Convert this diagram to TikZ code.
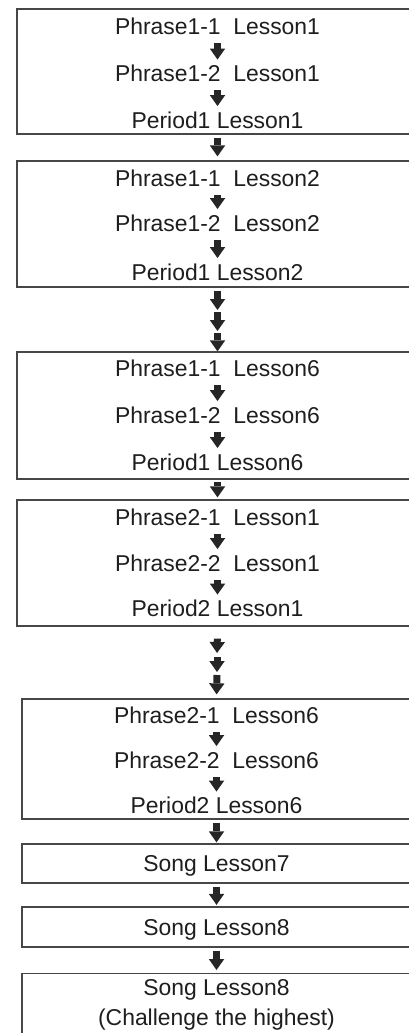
\documentclass[tikz,border=0pt]{standalone}
\usepackage{fontspec}
\setmainfont{Liberation Sans}
\usepackage{tikz}
\usetikzlibrary{arrows.meta}
\definecolor{boxline}{HTML}{474747}
\definecolor{arrfill}{HTML}{262626}
\definecolor{txtcol}{HTML}{1E1E1E}
\tikzset{
  grpbox/.style  ={draw=boxline,line width=1.3pt,inner sep=0pt,minimum width=401pt},
  grpboxb/.style ={grpbox,minimum width=389pt},
  songbox/.style ={grpboxb,text=txtcol,minimum height=39pt,
                   text height=16.5pt,text depth=0pt},
  steptxt/.style ={inner sep=0pt,text=txtcol,text height=16.5pt,text depth=0pt},
  blockarr/.style={draw=arrfill,line width=7pt,
                   -{Triangle[width=15.5pt,length=11pt,line width=0pt]}},
  inarr/.style   ={blockarr,shorten <=8.5pt,shorten >=5.5pt},
}

\begin{document}
\begin{tikzpicture}[x=1pt,y=-1pt,font=\fontsize{22.9}{30}\selectfont]
\useasboundingbox (0,0) rectangle (409,1033);

% --- block 1 ---------------------------------------------------------------
\node[grpbox,minimum height=125pt] (bx1) at (217.5,71.5) {};
\node[steptxt] (t11) at (217.5,26)    {Phrase1-1\ \ Lesson1};
\node[steptxt] (t12) at (217.5,73.5)  {Phrase1-2\ \ Lesson1};
\node[steptxt] (t13) at (217.5,120)   {Period1 Lesson1};
\draw[inarr] (t11.south) -- (t12.north);
\draw[inarr] (t12.south) -- (t13.north);

% --- block 2 ---------------------------------------------------------------
\node[grpbox,minimum height=126pt] (bx2) at (217.5,224) {};
\node[steptxt] (t21) at (217.5,178)   {Phrase1-1\ \ Lesson2};
\node[steptxt] (t22) at (217.5,223)   {Phrase1-2\ \ Lesson2};
\node[steptxt] (t23) at (217.5,272)   {Period1 Lesson2};
\draw[inarr] (t21.south) -- (t22.north);
\draw[inarr] (t22.south) -- (t23.north);
\draw[blockarr,shorten <=3pt,shorten >=4pt] (bx1.south) -- (bx2.north);

% --- block 3 ---------------------------------------------------------------
\node[grpbox,minimum height=127pt] (bx3) at (217.5,415.5) {};
\node[steptxt] (t31) at (217.5,368.5) {Phrase1-1\ \ Lesson6};
\node[steptxt] (t32) at (217.5,415)   {Phrase1-2\ \ Lesson6};
\node[steptxt] (t33) at (217.5,462)   {Period1 Lesson6};
\draw[inarr] (t31.south) -- (t32.north);
\draw[inarr] (t32.south) -- (t33.north);
\coordinate (m21) at (217.5,310);
\coordinate (m22) at (217.5,331);
\draw[blockarr,shorten <=3pt] (bx2.south) -- (m21);
\draw[blockarr,shorten <=2pt] (m21) -- (m22);
\draw[blockarr,shorten <=2pt] (m22) -- (bx3.north);

% --- block 4 ---------------------------------------------------------------
\node[grpbox,minimum height=126pt] (bx4) at (217.5,563) {};
\node[steptxt] (t41) at (217.5,517.5) {Phrase2-1\ \ Lesson1};
\node[steptxt] (t42) at (217.5,563)   {Phrase2-2\ \ Lesson1};
\node[steptxt] (t43) at (217.5,608.5) {Period2 Lesson1};
\draw[inarr] (t41.south) -- (t42.north);
\draw[inarr] (t42.south) -- (t43.north);
\draw[blockarr,shorten <=2pt,shorten >=2pt] (bx3.south) -- (bx4.north);

% --- block 5 ---------------------------------------------------------------
\node[grpboxb,minimum height=120pt] (bx5) at (216.5,759) {};
\node[steptxt] (t51) at (216.5,715)   {Phrase2-1\ \ Lesson6};
\node[steptxt] (t52) at (216.5,760)   {Phrase2-2\ \ Lesson6};
\node[steptxt] (t53) at (216.5,805.5) {Period2 Lesson6};
\draw[inarr] (t51.south) -- (t52.north);
\draw[inarr] (t52.south) -- (t53.north);
\coordinate (m41) at (217,655);
\coordinate (m42) at (217,673.5);
\draw[blockarr,shorten <=12pt,shorten >=2pt] (bx4.south) -- (m41);
\draw[blockarr,shorten <=2pt,shorten >=1.5pt] (m41) -- (m42);
\draw[blockarr,shorten <=1.5pt,shorten >=4pt] (m42) -- (bx5.north);

% --- song lessons ----------------------------------------------------------
\node[songbox] (bx6) at (216.5,863.5) {Song Lesson7};
\node[songbox,minimum height=40pt] (bx7) at (216.5,927) {Song Lesson8};
\node[grpboxb,anchor=north,align=center,text=txtcol,inner ysep=6pt] (bx8)
  at (216.5,973) {Song Lesson8\\(Challenge the highest)};
\draw[blockarr,shorten <=3.5pt,shorten >=1pt] (bx5.south) -- (bx6.north);
\draw[blockarr,shorten <=3.5pt,shorten >=1.5pt] (bx6.south) -- (bx7.north);
\draw[blockarr,shorten <=3.5pt,shorten >=3pt] (bx7.south) -- (bx8.north);

\end{tikzpicture}
\end{document}
